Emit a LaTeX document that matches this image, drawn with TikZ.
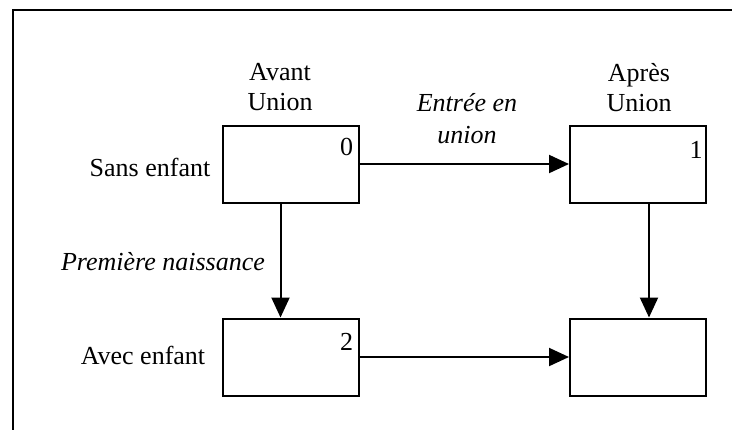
\documentclass[tikz,border=0pt]{standalone}
\usepackage{fontspec}
\setmainfont{Liberation Serif}
\usetikzlibrary{arrows.meta}
\tikzset{
  etat/.style={draw,line width=1pt,minimum width=68pt,minimum height=38.5pt,inner sep=0pt},
  num/.style={inner sep=0pt,anchor=north east},
  etiq/.style={align=center,inner sep=0pt},
  trans/.style={line width=1pt,-{Triangle[length=10pt,width=9pt]}}
}
\begin{document}
\begin{tikzpicture}[x=0.5pt,y=-0.5pt,font=\fontsize{13}{15}\selectfont]
  \useasboundingbox (0,0) rectangle (732,430);
  \draw[line width=1pt] (732,10) -- (13,10) -- (13,430);
  % les quatre etats
  \node[etat] (b0) at (290.5,164) {};
  \node[etat] (b1) at (638,164) {};
  \node[etat] (b2) at (290.5,357) {};
  \node[etat] (b3) at (638,357) {};
  \node[num] (n0) at ([shift={(-3pt,-6.5pt)}]b0.north east) {0};
  \node[num] (n1) at ([shift={(-2pt,-8pt)}]b1.north east) {1};
  \node[num] (n2) at ([shift={(-3pt,-7.5pt)}]b2.north east) {2};
  % textes
  \node[etiq] (avant) at (280,87) {Avant\\Union};
  \node[etiq] (apres) at (639,88) {Après\\Union};
  \node[etiq,font=\fontsize{13}{16}\selectfont\itshape] (entree) at (467,119) {Entrée en\\union};
  \node[etiq] (sans) at (150,167) {Sans enfant};
  \node[etiq,font=\fontsize{13}{15}\selectfont\itshape] (naiss) at (163,262) {Première naissance};
  \node[etiq] (avec) at (143,355) {Avec enfant};
  % transitions
  \draw[trans] (b0.east) -- (b1.west);
  \draw[trans] (b2.east) -- (b3.west);
  \draw[trans] ([xshift=-5pt]b0.south) -- ([xshift=-5pt]b2.north);
  \draw[trans] ([xshift=5.5pt]b1.south) -- ([xshift=5.5pt]b3.north);
\end{tikzpicture}
\end{document}
